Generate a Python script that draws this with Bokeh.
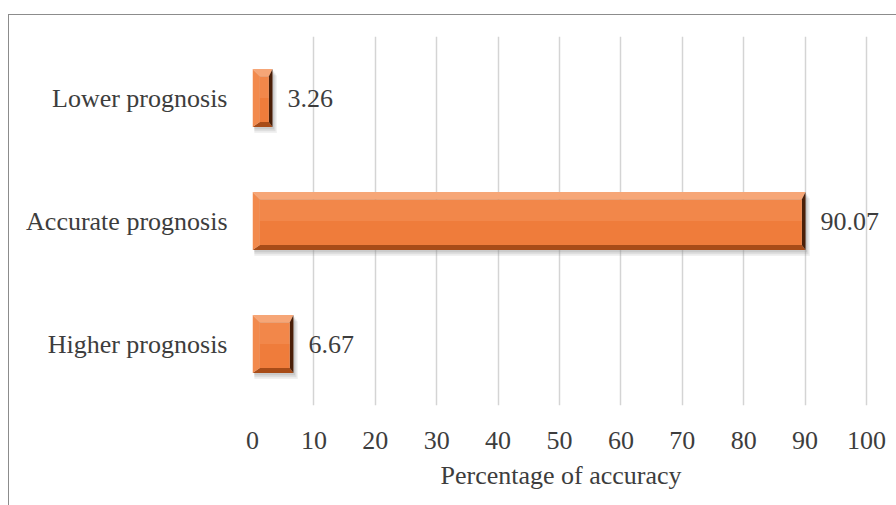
from bokeh.plotting import figure
from bokeh.models import FixedTicker, Range1d, Title
from bokeh.core.properties import value
from bokeh.embed import file_html
from bokeh.resources import INLINE

# Data
categories = ["Higher prognosis", "Accurate prognosis", "Lower prognosis"]
values = [6.67, 90.07, 3.26]
x_ticks = [0, 10, 20, 30, 40, 50, 60, 70, 80, 90, 100]
x_title = "Percentage of accuracy"

FONT = "Liberation Serif"
TEXT = "#3d3d3d"
SIZE = "26px"

pos = list(range(len(categories)))
h = 0.235     # half bar thickness (category units)
bxl = 1.2     # left bevel width (data units)
bxr = 0.6     # right bevel width (data units)
byt = 0.06    # top bevel height (category units)
byb = 0.04    # bottom bevel height (category units)

# x range runs a little past 100 so the last value label has room
p = figure(width=888, height=491, output_backend="svg", toolbar_location=None,
           x_range=Range1d(0, 105.05), y_range=Range1d(-0.5, 2.5),
           min_border_left=243, min_border_right=0,
           min_border_top=21, min_border_bottom=101)
p.margin = (14, 0, 0, 8)
p.styles = {"border-top": "1px solid #8c8c8c", "border-left": "1px solid #8c8c8c"}
p.outline_line_color = None
p.background_fill_color = "white"

# soft drop shadow under each bar
for off, alpha in [(0.05, 0.12), (0.035, 0.18), (0.02, 0.22)]:
    p.quad(left=[0.3] * 3, right=[v + off * 14 for v in values],
           bottom=[c - h - off for c in pos], top=[c + h - off for c in pos],
           fill_color="#8a8a8a", fill_alpha=alpha, line_color=None)

# bevelled bars built from each value
def bevel(kind):
    xs, ys = [], []
    for v, c in zip(values, pos):
        lo, hi = c - h, c + h
        if kind == "top":
            xs.append([0, v, v - bxr, bxl]); ys.append([hi, hi, hi - byt, hi - byt])
        elif kind == "bottom":
            xs.append([0, v, v - bxr, bxl]); ys.append([lo, lo, lo + byb, lo + byb])
        elif kind == "left":
            xs.append([0, 0, bxl, bxl]); ys.append([lo, hi, hi - byt, lo + byb])
        else:
            xs.append([v, v, v - bxr, v - bxr]); ys.append([lo, hi, hi - byt, lo + byb])
    return xs, ys

for kind, col in [("top", "#f6a677"), ("bottom", "#a84c18"),
                  ("left", "#f28a4d"), ("right", "#4a1f08")]:
    xs, ys = bevel(kind)
    p.patches(xs, ys, fill_color=col, line_color=None)

p.quad(left=[bxl] * 3, right=[v - bxr for v in values],
       bottom=[c for c in pos], top=[c + h - byt for c in pos],
       fill_color="#f2874a", line_color=None)
p.quad(left=[bxl] * 3, right=[v - bxr for v in values],
       bottom=[c - h + byb for c in pos], top=[c for c in pos],
       fill_color="#ef7c3b", line_color=None)

# value labels
p.text(x=values, y=pos, text=[f"{v:.2f}" for v in values], x_offset=15,
       text_baseline="middle", text_align="left", text_font=value(FONT),
       text_font_size=SIZE, text_color=TEXT)

# axis title, set under the 0-100 scale
p.add_layout(Title(text=x_title, align="left", offset=188, standoff=14,
                   text_font=FONT, text_font_style="normal",
                   text_font_size=SIZE, text_color=TEXT), "below")

# axes
p.xaxis.ticker = FixedTicker(ticks=x_ticks)
p.yaxis.ticker = FixedTicker(ticks=pos)
p.yaxis.major_label_overrides = {i: c for i, c in zip(pos, categories)}
for ax in (p.xaxis[0], p.yaxis[0]):
    ax.axis_line_color = None
    ax.major_tick_line_color = None
    ax.minor_tick_line_color = None
    ax.major_label_text_font = FONT
    ax.major_label_text_font_size = SIZE
    ax.major_label_text_color = TEXT
p.xaxis.major_label_standoff = 20
p.yaxis.major_label_standoff = 19

p.xgrid.ticker = FixedTicker(ticks=x_ticks)
p.xgrid.grid_line_color = "#d4d4d4"
p.xgrid.grid_line_width = 1.5
p.ygrid.grid_line_color = None

open("out.html", "w").write(file_html(p, INLINE))
